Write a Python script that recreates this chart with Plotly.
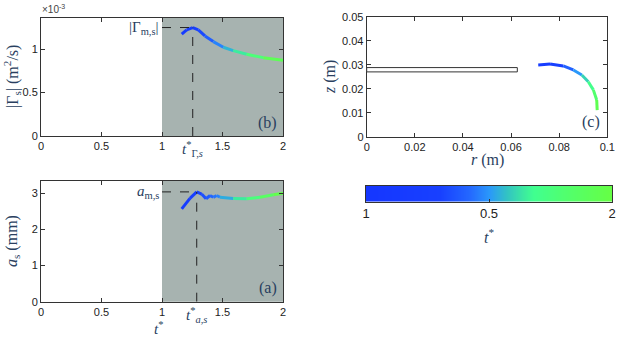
import plotly.graph_objects as go
from plotly.colors import sample_colorscale

# ---- data ----
t_gamma = [1.163, 1.204, 1.254, 1.300, 1.355, 1.424, 1.507, 1.589, 1.700, 1.837, 2.0]
gamma_s = [1.173e-3, 1.223e-3, 1.250e-3, 1.223e-3, 1.153e-3, 1.088e-3,
           1.023e-3, 0.984e-3, 0.942e-3, 0.903e-3, 0.873e-3]

t_a = [1.163, 1.231, 1.287, 1.328, 1.364, 1.397, 1.424, 1.452, 1.479,
       1.589, 1.700, 1.810, 1.920, 2.0]
a_s = [2.57, 2.86, 3.04, 2.98, 2.85, 2.94, 2.89, 2.94, 2.89,
       2.86, 2.85, 2.89, 2.96, 3.0]

r_core = [0.0713, 0.0762, 0.0817, 0.0859, 0.0894, 0.0921, 0.0942, 0.0956, 0.0958]
z_core = [0.0299, 0.0303, 0.0295, 0.0278, 0.0257, 0.0229, 0.0195, 0.0153, 0.0111]
t_core = [1.16, 1.25, 1.35, 1.45, 1.55, 1.65, 1.75, 1.88, 2.0]

plate_r = 0.0626
plate_z = [0.0270, 0.0288]

x_ticks = [0, 0.5, 1, 1.5, 2]
x_ticktext = ["0", "0.5", "1", "1.5", "2"]
g_ticks = [0, 0.5e-3, 1e-3]
g_ticktext = ["0", "0.5", "1"]
a_ticks = [0, 1, 2, 3]
cb_ticks = [1, 1.5, 2]
cb_ticktext = ["1", "0.5", "2"]

CSCALE = [[0, "#1536ff"], [0.3, "#1840ff"], [0.42, "#2468ff"], [0.5, "#2a98fa"],
          [0.57, "#32c2c4"], [0.64, "#3ceaa0"], [0.68, "#40ff90"], [0.8, "#50ff70"],
          [1, "#66ff44"]]
SHADE = "#a7b3b0"
W, H = 623, 337


def px_x(p):
    return p / W


def px_y(p):
    return 1 - p / H


def colored_line(fig, xs, ys, ts, xa, ya, width=3):
    for i in range(len(xs) - 1):
        tm = 0.5 * (ts[i] + ts[i + 1])
        col = sample_colorscale(CSCALE, [(tm - 1) / 1.0])[0]
        fig.add_trace(go.Scatter(
            x=xs[i:i + 2], y=ys[i:i + 2], mode="lines", xaxis=xa, yaxis=ya,
            line={"color": col, "width": width}, showlegend=False, hoverinfo="skip"))


fig = go.Figure()
colored_line(fig, t_gamma, gamma_s, t_gamma, "x", "y")
colored_line(fig, t_a, a_s, t_a, "x2", "y2")
colored_line(fig, r_core, z_core, t_core, "x3", "y3")

# colour bar drawn as a smoothed heatmap strip
fig.add_trace(go.Heatmap(
    x=cb_ticks, y=[0], z=[cb_ticks], zsmooth="best", colorscale=CSCALE,
    zmin=1, zmax=2, showscale=False, xaxis="x4", yaxis="y4", hoverinfo="skip"))

axis_common = dict(showline=True, linecolor="#333", linewidth=1, mirror="ticks",
                   ticks="inside", ticklen=4, tickcolor="#333", showgrid=False,
                   zeroline=False, automargin=False,
                   tickfont={"family": "Liberation Sans", "size": 11, "color": "#222"})

fig.update_layout(
    width=W, height=H, margin={"l": 0, "r": 0, "t": 0, "b": 0, "autoexpand": False},
    paper_bgcolor="white", plot_bgcolor="white", showlegend=False,
    xaxis=dict(axis_common, domain=[px_x(41), px_x(283)], range=[0, 2],
               tickvals=x_ticks, ticktext=x_ticktext, anchor="y"),
    yaxis=dict(axis_common, domain=[px_y(136), px_y(18)], range=[0, 1.36e-3],
               tickvals=g_ticks, ticktext=g_ticktext, anchor="x"),
    xaxis2=dict(axis_common, domain=[px_x(41), px_x(283)], range=[0, 2],
                tickvals=x_ticks, ticktext=x_ticktext, anchor="y2"),
    yaxis2=dict(axis_common, domain=[px_y(301.7), px_y(180.7)], range=[0, 3.35],
                tickvals=a_ticks, anchor="x2"),
    xaxis3=dict(axis_common, domain=[px_x(366.7), px_x(607.3)], range=[0, 0.1],
                tickvals=[0, 0.02, 0.04, 0.06, 0.08, 0.1],
                ticktext=["0", "0.02", "0.04", "0.06", "0.08", "0.1"], anchor="y3"),
    yaxis3=dict(axis_common, domain=[px_y(136.7), px_y(16.7)], range=[0, 0.05],
                tickvals=[0, 0.01, 0.02, 0.03, 0.04, 0.05],
                ticktext=["0", "0.01", "0.02", "0.03", "0.04", "0.05"], anchor="x3"),
    xaxis4=dict(axis_common, domain=[px_x(366), px_x(612)], range=[1, 2],
                tickvals=cb_ticks, ticktext=cb_ticktext, anchor="y4", mirror=True,
                ticklen=3, tickfont={"family": "Liberation Sans", "size": 13, "color": "#222"}),
    yaxis4=dict(axis_common, domain=[px_y(201.7), px_y(185.7)], range=[-0.5, 0.5],
                showticklabels=False, ticks="", mirror=True, anchor="x4"),
)

# shaded regions t* in [1, 2]
for xr, yr in (("x", "y domain"), ("x2", "y2 domain")):
    fig.add_shape(type="rect", xref=xr, yref=yr, x0=1, x1=2, y0=0, y1=1,
                  fillcolor=SHADE, line={"width": 0}, layer="below")

# plate
fig.add_shape(type="rect", xref="x3", yref="y3", x0=0, x1=plate_r,
              y0=plate_z[0], y1=plate_z[1], fillcolor="white",
              line={"color": "#333", "width": 1})

# dashed markers at maxima
ig = gamma_s.index(max(gamma_s))
ia = a_s.index(max(a_s))
dash = {"color": "#222", "width": 1, "dash": "dash"}
fig.add_shape(type="line", xref="x", yref="y", x0=1.0, x1=t_gamma[ig],
              y0=gamma_s[ig], y1=gamma_s[ig], line=dash)
fig.add_shape(type="line", xref="x", yref="y", x0=t_gamma[ig], x1=t_gamma[ig],
              y0=0, y1=gamma_s[ig], line=dash)
fig.add_shape(type="line", xref="x2", yref="y2", x0=1.0, x1=t_a[ia],
              y0=a_s[ia], y1=a_s[ia], line=dash)
fig.add_shape(type="line", xref="x2", yref="y2", x0=t_a[ia], x1=t_a[ia],
              y0=0, y1=a_s[ia], line=dash)

serif = "Liberation Serif"
ann = [
    dict(xref="x", yref="y", x=1.0, y=gamma_s[ig], xanchor="right", yanchor="middle",
         text="|Γ<sub>m,s</sub>|", font={"family": serif, "size": 15}, xshift=-1),
    dict(xref="x", yref="y domain", x=t_gamma[ig], y=0, xanchor="center", yanchor="top",
         text="<i>t</i><sup>*</sup><sub>Γ,<i>s</i></sub>", font={"family": serif, "size": 15},
         yshift=-1),
    dict(xref="x2", yref="y2", x=1.0, y=a_s[ia], xanchor="right", yanchor="middle",
         text="<i>a</i><sub>m,s</sub>", font={"family": serif, "size": 15}, xshift=-1),
    dict(xref="x2", yref="y2 domain", x=t_a[ia], y=0, xanchor="center", yanchor="top",
         text="<i>t</i><sup>*</sup><sub><i>a,s</i></sub>", font={"family": serif, "size": 15},
         yshift=-1),
    dict(xref="x domain", yref="y domain", x=0.985, y=0.02, xanchor="right", yanchor="bottom",
         text="(b)", font={"family": serif, "size": 16}),
    dict(xref="x2 domain", yref="y2 domain", x=0.985, y=0.02, xanchor="right", yanchor="bottom",
         text="(a)", font={"family": serif, "size": 16}),
    dict(xref="x3 domain", yref="y3 domain", x=0.98, y=0.03, xanchor="right", yanchor="bottom",
         text="(c)", font={"family": serif, "size": 16}),
    dict(xref="paper", yref="paper", x=px_x(40), y=px_y(1), xanchor="left", yanchor="top",
         text="×10<sup>-3</sup>", font={"family": "Liberation Sans", "size": 10, "color": "#444"}),
    dict(xref="paper", yref="paper", x=px_x(12), y=px_y(77), xanchor="center", yanchor="middle",
         textangle=-90, text="|Γ<sub>s</sub>| (m<sup>2</sup>/s)", font={"family": serif, "size": 16}),
    dict(xref="paper", yref="paper", x=px_x(12), y=px_y(241), xanchor="center", yanchor="middle",
         textangle=-90, text="<i>a</i><sub>s</sub> (mm)", font={"family": serif, "size": 16}),
    dict(xref="paper", yref="paper", x=px_x(158), y=px_y(328), xanchor="center", yanchor="middle",
         text="<i>t</i><sup>*</sup>", font={"family": serif, "size": 15}),
    dict(xref="paper", yref="paper", x=px_x(330), y=px_y(77), xanchor="center", yanchor="middle",
         textangle=-90, text="<i>z</i> (m)", font={"family": serif, "size": 16}),
    dict(xref="paper", yref="paper", x=px_x(487), y=px_y(160), xanchor="center", yanchor="middle",
         text="<i>r</i> (m)", font={"family": serif, "size": 16}),
    dict(xref="paper", yref="paper", x=px_x(489), y=px_y(236), xanchor="center", yanchor="middle",
         text="<i>t</i><sup>*</sup>", font={"family": serif, "size": 16}),
]
for a in ann:
    fig.add_annotation(showarrow=False, **a)

# drop the browser's default body margin so the figure sits at the page origin
fig.write_html("out.html", config={"displayModeBar": False},
               post_script="document.body.style.margin = '0';")
